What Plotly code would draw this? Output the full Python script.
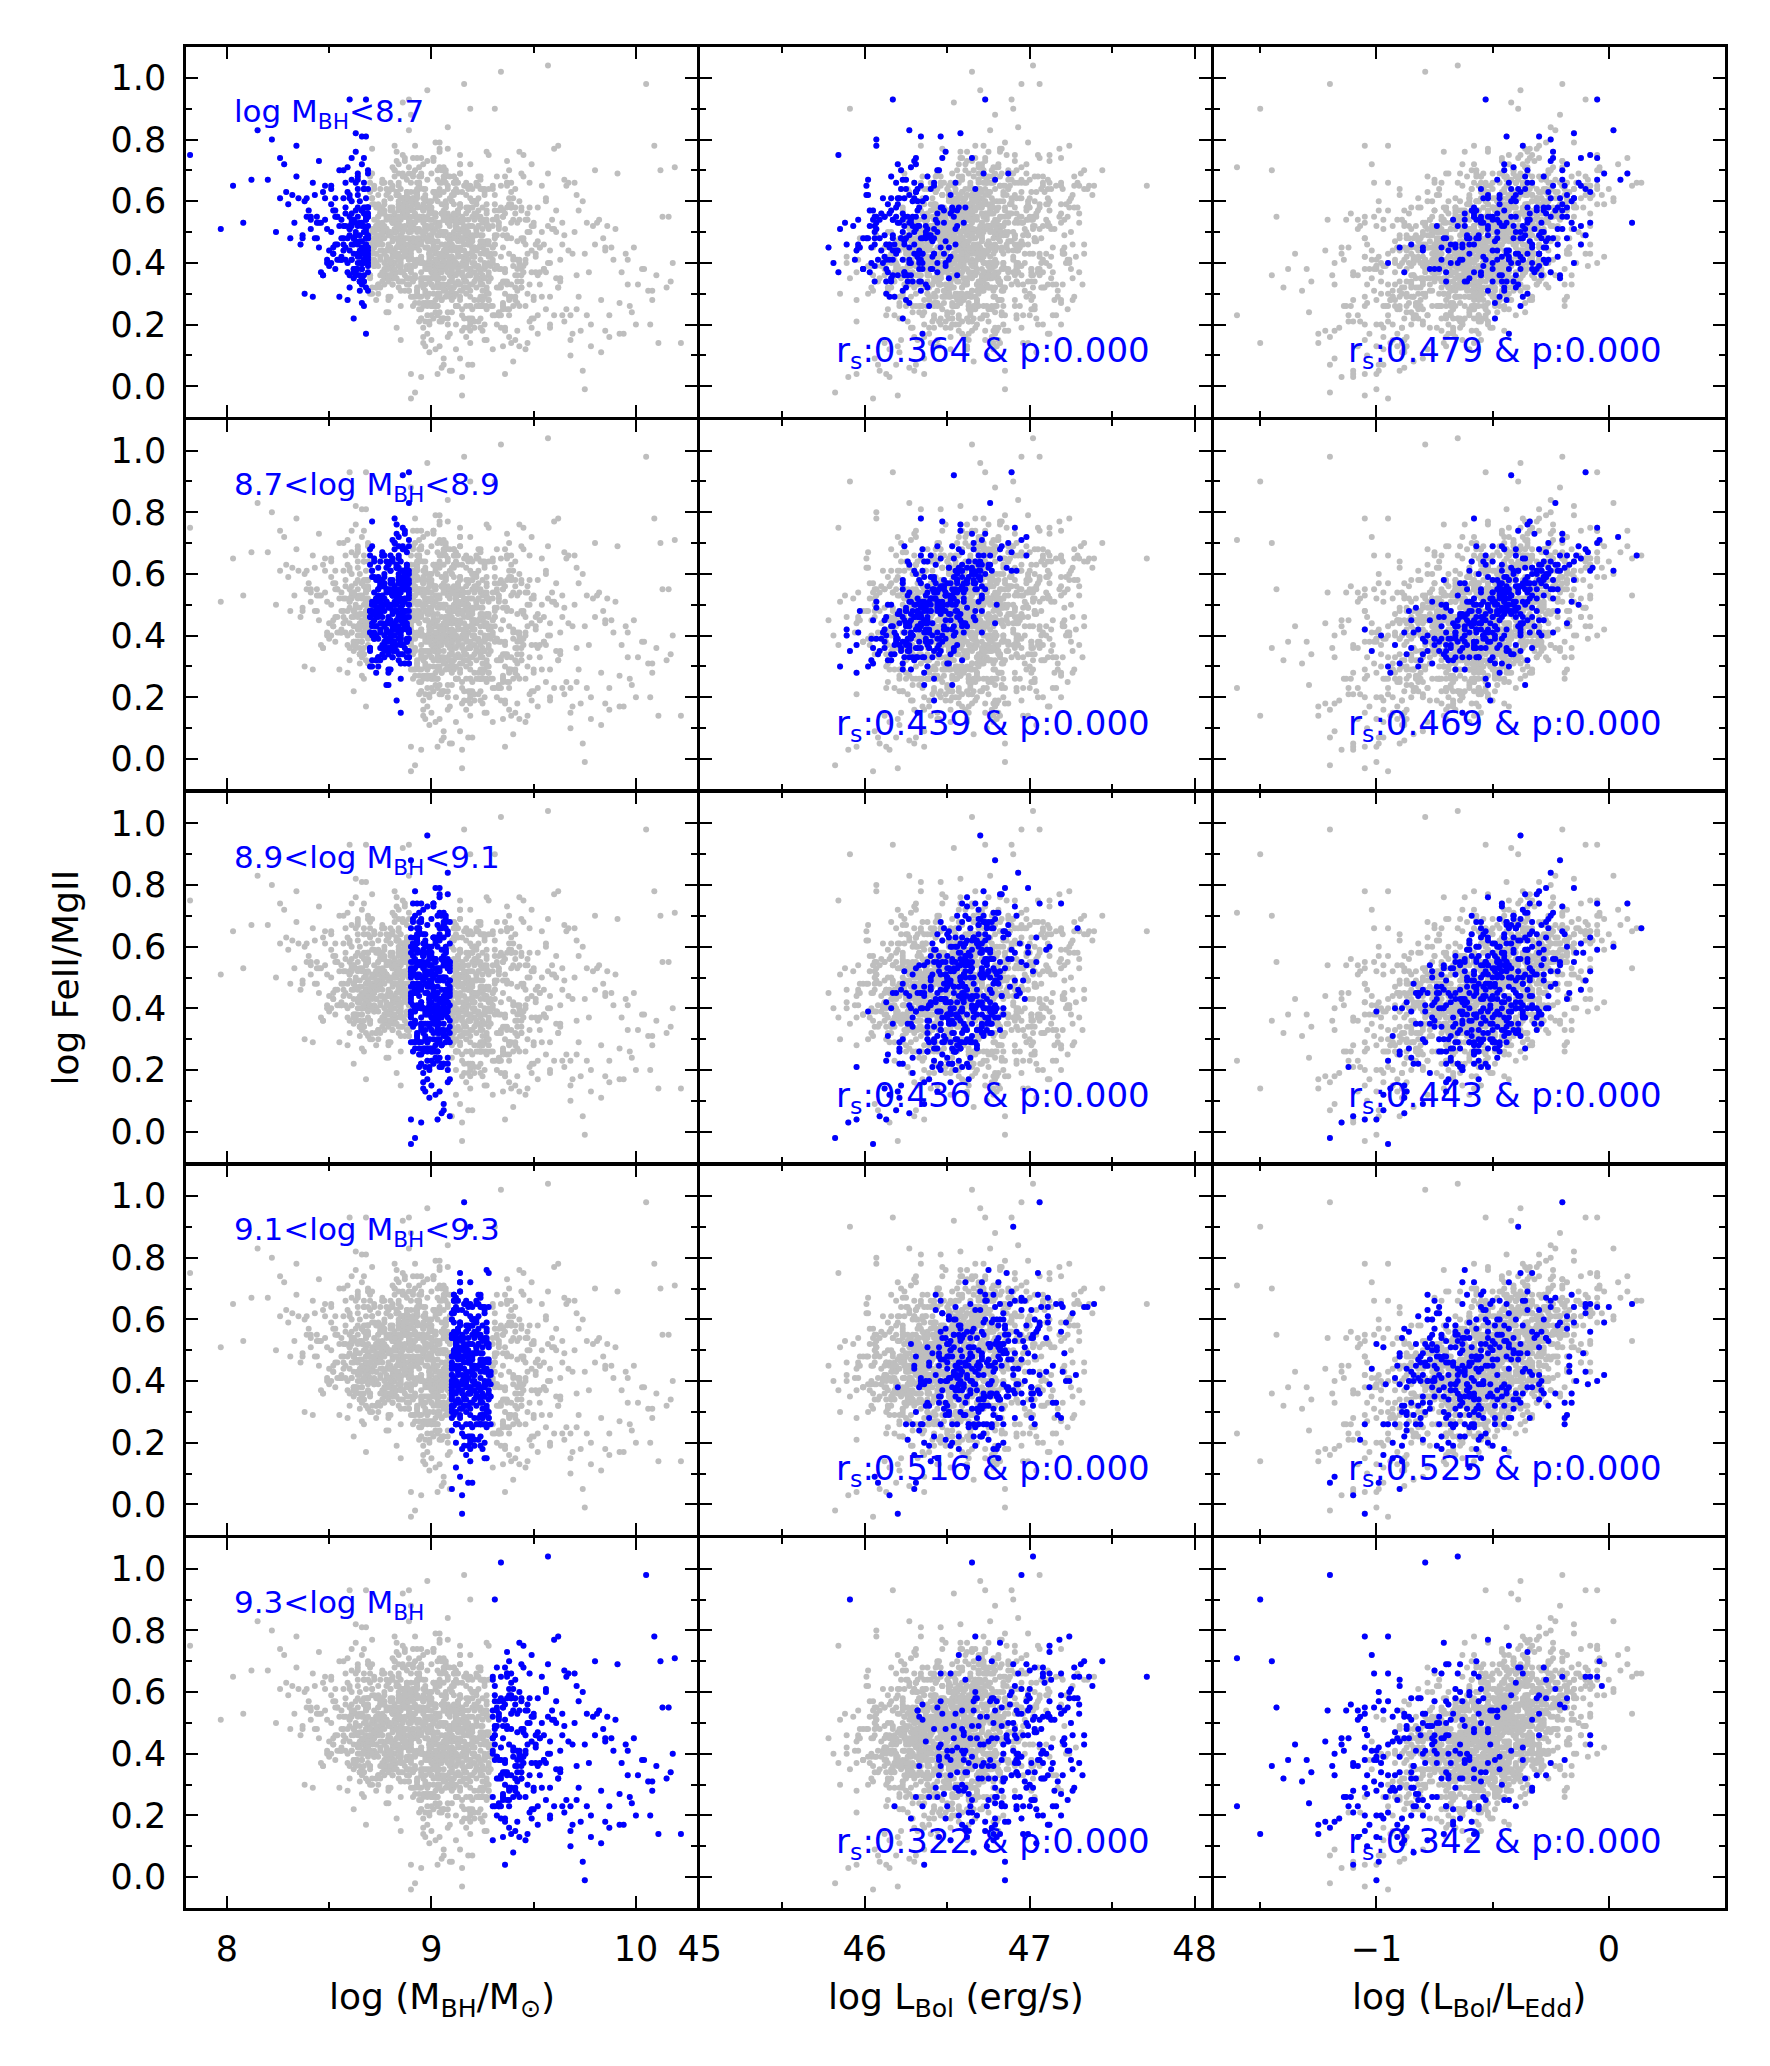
import numpy as np
import plotly.graph_objects as go
from plotly.subplots import make_subplots

# ------------------------------
# Data, in units of 0.01 dex.
# One block per log M_BH bin (= one row of panels):
# log M_BH, log(L_Bol/L_Edd) and log FeII/MgII of each quasar.
# ------------------------------
mbh_1 = [
    866, 852, 868, 841, 863, 869, 857, 864, 835, 861,
    867, 848, 859, 865, 826, 862, 869, 854, 866, 845,
    860, 868, 851, 863, 803, 867, 856, 864, 838, 869,
    862, 843, 865, 858, 868, 832, 861, 866, 853, 867,
    864, 849, 869, 855, 860, 846, 868, 863, 822, 865,
    857, 866, 840, 862, 869, 851, 864, 836, 867, 860,
    868, 854, 815, 865, 861, 847, 869, 858, 863, 844,
    866, 859, 833, 867, 862, 852, 868, 864, 828, 869,
    861, 856, 865, 842, 860, 868, 850, 863, 797, 866,
    867, 839, 864, 857, 869, 845, 862, 866, 853, 860,
    868, 824, 863, 855, 865, 849, 867, 861, 834, 869,
    864, 858, 866, 843, 862, 868, 852, 860, 782, 865,
    867, 847, 869, 856, 863, 830, 861, 866, 854, 868,
    860, 841, 865, 859, 862, 851, 869, 837, 864, 867,
    865, 858, 869, 846, 862, 867, 853, 861, 829, 866,
    868, 863, 855, 869, 844, 860, 866, 851, 867, 838,
    864, 869, 857, 862, 848, 866, 859, 868, 812, 863,
    867, 853, 865, 860, 869, 842, 864, 856, 868, 834,
    861, 866, 849, 869, 858, 863, 867, 845, 862, 868,
    865, 852, 869, 860, 864, 837, 868, 855, 866, 820,
    863, 869, 857, 866, 841, 862, 868, 850, 864, 867,
    868, 859, 865, 847, 869, 861, 854, 867, 826, 863,
    860, 866, 869, 853, 864, 839, 868, 858, 862, 867,
    869, 851, 863, 866, 857, 868, 844, 865, 808, 861,
    864, 867, 856, 869, 862, 848, 866, 859, 868, 831,
]
edd_1 = [
    -52, -30, -41, -20, -70, -35, -48, -22, -15, -58,
    -44, -62, -25, -80, -5, -38, -55, -40, -30, -28,
    -15, -63, -47, -33, -12, -50, -72, -42, -35, -27,
    -55, -18, -46, -90, -36, -40, -24, -60, -33, -10,
    -39, -52, -68, -20, -45, -8, -31, -57, -25, -43,
    -61, -27, -45, -49, -18, -36, -75, -22, -40, -53,
    -46, -58, 2, -34, -65, -29, -52, -13, -38, -47,
    -20, -44, -55, -58, -30, -66, -43, -85, -18, -37,
    -48, -26, -62, -33, -41, -5, -54, -29, -22, -50,
    -35, -42, -47, -12, -60, -25, -70, -39, -51, -32,
    -56, -28, -24, -48, -40, -15, -45, -63, -37, -28,
    -44, -35, -95, -52, -21, -48, -30, -58, -8, -36,
    -62, -40, -26, -54, -43, -20, -37, -16, -68, -50,
    -30, -34, -55, -41, -73, -19, -45, -48, -28, -38,
    -40, -58, -25, -32, -66, -12, -50, -44, -8, -77,
    -35, -47, -62, 8, -29, -54, -70, -38, -21, -16,
    -55, -33, -45, -88, -24, -43, -60, -27, -20, -49,
    -64, -31, -52, -18, -46, -37, -2, -57, -41, -28,
    -48, -72, -26, -39, -53, -15, -44, -35, -67, -30,
    -42, -59, -22, -50, -36, -10, -63, -47, -28, -5,
    -56, -38, -74, -45, -20, -31, -52, -43, 5, -61,
    -34, -65, -41, -26, -57, -48, -37, -80, -15, -29,
    -46, -23, -69, -52, -39, -25, -44, -12, -58, -35,
    -50, -33, -61, -27, -47, -40, -18, -54, 10, -42,
    -37, -55, -43, -30, -71, -21, -49, -38, -60, -24,
]
fe_1 = [
    52, 43, 61, 55, 37, 70, 44, 42, 61, 46,
    44, 54, 37, 44, 74, 48, 37, 55, 81, 45,
    51, 46, 59, 38, 65, 40, 41, 64, 30, 56,
    54, 48, 34, 45, 51, 62, 74, 35, 46, 64,
    40, 51, 40, 70, 32, 53, 58, 57, 80, 42,
    48, 40, 57, 22, 58, 64, 38, 46, 50, 93,
    42, 55, 83, 47, 52, 36, 49, 66, 38, 53,
    57, 28, 53, 58, 43, 45, 17, 46, 72, 48,
    56, 48, 34, 66, 52, 93, 39, 53, 51, 34,
    43, 55, 62, 46, 43, 73, 48, 33, 55, 51,
    48, 50, 76, 41, 60, 40, 52, 41, 78, 41,
    43, 58, 40, 62, 35, 50, 43, 55, 75, 49,
    56, 36, 58, 42, 66, 59, 41, 53, 46, 54,
    49, 54, 36, 71, 38, 65, 31, 48, 58, 26,
    43, 56, 55, 37, 46, 74, 38, 53, 63, 38,
    54, 36, 52, 69, 48, 61, 34, 50, 36, 60,
    55, 45, 70, 37, 65, 38, 48, 45, 67, 47,
    41, 57, 31, 62, 52, 29, 69, 54, 48, 68,
    54, 45, 41, 64, 41, 82, 34, 53, 54, 43,
    40, 57, 58, 44, 68, 49, 45, 29, 57, 67,
    49, 42, 52, 72, 51, 38, 55, 44, 67, 34,
    56, 40, 34, 63, 48, 67, 41, 45, 61, 50,
    36, 57, 44, 61, 43, 61, 81, 52, 37, 66,
    55, 40, 49, 47, 61, 32, 55, 53, 53, 60,
    52, 64, 41, 39, 48, 61, 27, 63, 46, 48,
]

mbh_2 = [
    884, 872, 879, 887, 875, 881, 889, 870, 877, 885,
    880, 888, 873, 883, 876, 886, 871, 882, 878, 889,
    874, 885, 881, 870, 887, 879, 884, 876, 888, 872,
    883, 877, 889, 880, 873, 886, 882, 875, 884, 879,
    871, 887, 878, 885, 881, 874, 888, 883, 870, 886,
    880, 876, 884, 872, 889, 879, 882, 887, 875, 885,
    878, 883, 870, 886, 881, 873, 888, 877, 884, 880,
    889, 874, 882, 879, 887, 871, 885, 876, 883, 888,
    872, 886, 880, 875, 884, 878, 889, 881, 873, 887,
    885, 877, 883, 870, 888, 882, 874, 886, 879, 884,
    876, 889, 881, 873, 885, 880, 887, 871, 883, 878,
    882, 875, 888, 884, 872, 886, 879, 889, 877, 881,
    870, 884, 878, 887, 880, 874, 885, 883, 876, 888,
    886, 879, 873, 882, 889, 877, 881, 871, 884, 880,
    875, 887, 883, 878, 885, 872, 888, 882, 874, 886,
    881, 870, 884, 889, 876, 883, 879, 887, 873, 885,
    888, 877, 882, 874, 886, 880, 871, 884, 878, 889,
    873, 885, 879, 887, 881, 875, 883, 888, 870, 882,
    884, 876, 889, 880, 872, 886, 878, 883, 885, 874,
    879, 887, 871, 882, 888, 877, 884, 873, 886, 881,
    877, 885, 871, 888, 880, 874, 886, 882, 879, 889,
    883, 872, 887, 876, 884, 870, 881, 888, 875, 886,
    879, 889, 873, 885, 882, 877, 887, 871, 884, 880,
    886, 874, 888, 881, 878, 883, 870, 885, 876, 889,
    882, 887, 875, 880, 889, 872, 884, 878, 886, 873,
    888, 879, 884, 871, 886, 881, 876, 889, 874, 883,
    875, 885, 880, 887, 872, 882, 889, 877, 884, 870,
    884, 876, 889, 882, 879, 886, 873, 881, 888, 878,
    881, 888, 874, 885, 870, 883, 877, 887, 880, 872,
    887, 873, 882, 878, 886, 875, 884, 871, 889, 880,
    876, 884, 870, 887, 881, 889, 874, 885, 879, 883,
    889, 880, 885, 872, 883, 877, 888, 875, 882, 886,
    873, 886, 879, 884, 871, 888, 880, 887, 876, 885,
    885, 878, 889, 874, 882, 870, 886, 881, 888, 877,
    880, 887, 872, 883, 876, 889, 884, 878, 871, 886,
    886, 871, 884, 879, 888, 873, 882, 876, 887, 880,
    874, 883, 877, 889, 881, 885, 870, 888, 875, 882,
    888, 875, 886, 880, 872, 884, 879, 887, 883, 876,
]
edd_2 = [
    -45, -72, -30, -58, -15, -50, -88, -40, -62, -25,
    -53, -36, -67, -20, -48, -80, -43, -5, -57, -33,
    -61, -28, -47, -95, -39, -55, -12, -70, -44, -52,
    -35, -64, -49, -22, -76, -41, -58, -30, -105, -46,
    -56, -18, -43, -68, -37, -60, -27, -51, -84, -40,
    -48, -73, -32, -55, -10, -66, -45, -38, -59, -24,
    -70, -42, -53, -29, -63, -47, -35, -78, -50, 2,
    -44, -57, -26, -65, -49, -34, -90, -41, -54, -31,
    -38, -60, -47, -16, -71, -52, -43, -28, -66, -55,
    -50, -33, -75, -45, -21, -58, -40, -62, -36, -48,
    -27, -54, -42, -69, -35, -83, -46, -57, -13, -61,
    -47, -39, -64, -52, -30, -45, -77, -23, -56, -43,
    -59, -34, -50, -8, -66, -44, -53, -37, -72, -48,
    -41, -63, -29, -55, -46, -98, -38, -51, -19, -60,
    -52, -31, -68, -44, -57, -36, -49, -25, -80, -42,
    -65, -46, -35, -58, -14, -50, -71, -40, -54, -33,
    -39, -56, -48, -82, -27, -62, -45, -37, -60, -4,
    -51, -70, -43, -32, -58, -47, -22, -66, -53, -38,
    -45, -61, -28, -54, -75, -40, -50, -35, -63, -49,
    -57, -24, -46, -67, -37, -53, -42, -86, -31, -59,
    -40, -66, -22, -51, -85, -33, -57, -10, -44, -70,
    -55, -28, -48, 12, -62, -38, -79, -46, -31, -58,
    -36, -73, -50, -24, -45, -92, -39, -60, -18, -53,
    -47, -64, -29, -56, -41, -7, -68, -34, -52, -43,
    -59, -37, -81, -46, -26, -54, -42, -65, -30, -49,
    -32, -50, -71, -44, -58, -20, -39, -62, -47, -102,
    -53, -35, -46, -61, -15, -44, -76, -28, -57, -40,
    -66, -24, -49, -38, -55, -5, -43, -70, -33, -51,
    -42, -58, -31, -87, -48, -36, -62, -45, -21, -54,
    -27, -50, -44, -69, -37, -56, 4, -41, -63, -47,
    -60, -34, -52, -45, -78, -29, -40, -57, -48, -17,
    -43, -66, -25, -54, -39, -48, -72, -35, -58, -30,
    -51, -38, -94, -46, -62, -23, -55, -41, -33, -68,
    -36, -57, -44, -28, -73, -50, -13, -64, -39, -47,
    -49, -31, -61, -42, -55, -37, -82, -26, -45, -58,
    -40, -65, -34, -52, -9, -46, -70, -38, -56, -43,
    -54, -22, -47, -60, -35, -75, -42, -29, -63, -50,
    -33, -58, -41, -85, -48, -27, -53, -39, -66, -44,
]
fe_2 = [
    54, 39, 63, 36, 58, 33, 41, 66, 38, 61,
    45, 58, 32, 73, 50, 34, 30, 70, 50, 46,
    55, 45, 48, 30, 74, 44, 65, 50, 35, 50,
    45, 57, 31, 55, 51, 48, 78, 41, 42, 63,
    48, 44, 55, 39, 65, 33, 56, 19, 41, 46,
    58, 46, 43, 54, 93, 29, 48, 44, 64, 41,
    41, 62, 36, 57, 47, 28, 59, 35, 69, 61,
    55, 33, 70, 45, 43, 77, 31, 34, 51, 48,
    41, 48, 57, 51, 58, 24, 54, 64, 43, 55,
    51, 36, 37, 68, 61, 36, 51, 57, 24, 47,
    67, 39, 53, 32, 51, 49, 31, 69, 50, 51,
    37, 56, 46, 59, 45, 47, 45, 83, 33, 58,
    48, 41, 64, 61, 41, 59, 26, 51, 50, 42,
    61, 39, 40, 50, 69, 40, 42, 32, 62, 61,
    42, 61, 48, 36, 46, 65, 39, 55, 39, 92,
    53, 46, 32, 52, 66, 52, 34, 68, 40, 49,
    43, 60, 50, 30, 59, 29, 59, 46, 51, 71,
    48, 49, 35, 73, 38, 56, 48, 33, 63, 40,
    53, 37, 53, 64, 39, 37, 54, 76, 15, 51,
    36, 55, 61, 44, 44, 66, 34, 48, 61, 43,
    56, 40, 61, 38, 45, 62, 42, 68, 49, 33,
    42, 59, 48, 66, 46, 35, 38, 57, 52, 44,
    50, 35, 58, 52, 40, 37, 61, 44, 66, 39,
    45, 47, 63, 33, 51, 62, 36, 55, 49, 58,
    51, 44, 32, 54, 60, 40, 47, 38, 68, 43,
    57, 41, 46, 50, 37, 71, 49, 42, 53, 35,
    47, 54, 39, 45, 64, 56, 31, 59, 41, 48,
    39, 58, 50, 43, 46, 75, 52, 37, 60, 44,
    53, 38, 55, 34, 48, 62, 43, 51, 66, 40,
    59, 46, 42, 39, 56, 48, 72, 50, 33, 54,
    44, 57, 41, 52, 40, 61, 49, 38, 55, 63,
    48, 41, 64, 45, 54, 36, 43, 57, 50, 58,
    52, 47, 28, 55, 40, 63, 44, 60, 53, 37,
    55, 42, 50, 58, 38, 46, 69, 35, 61, 48,
    40, 60, 47, 53, 36, 57, 42, 62, 51, 45,
    58, 43, 52, 38, 67, 49, 35, 56, 44, 50,
    46, 63, 52, 41, 57, 39, 48, 61, 36, 54,
    62, 44, 50, 36, 47, 60, 41, 55, 43, 52,
]

mbh_3 = [
    896, 903, 891, 908, 899, 894, 905, 900, 892, 907,
    901, 895, 909, 898, 904, 890, 906, 897, 902, 893,
    905, 899, 892, 907, 896, 903, 890, 908, 900, 894,
    898, 906, 901, 893, 909, 897, 904, 891, 902, 895,
    907, 892, 900, 905, 896, 909, 894, 903, 898, 890,
    893, 904, 897, 901, 908, 891, 906, 899, 895, 902,
    900, 896, 908, 894, 903, 898, 890, 905, 901, 907,
    904, 891, 899, 906, 893, 902, 909, 896, 892, 898,
    895, 907, 902, 890, 905, 900, 897, 908, 894, 903,
    909, 898, 893, 904, 901, 895, 906, 891, 899, 896,
    892, 905, 900, 897, 908, 903, 894, 901, 907, 890,
    906, 899, 891, 902, 896, 909, 898, 893, 904, 900,
    897, 903, 908, 895, 890, 906, 901, 899, 892, 905,
    901, 894, 904, 907, 898, 891, 903, 896, 909, 893,
    890, 908, 896, 902, 905, 899, 893, 907, 900, 897,
    903, 900, 895, 891, 907, 904, 898, 906, 894, 901,
    898, 892, 906, 900, 895, 908, 902, 890, 905, 896,
    907, 897, 901, 893, 904, 899, 909, 895, 891, 903,
    894, 905, 899, 908, 892, 901, 896, 903, 906, 900,
    902, 890, 907, 897, 903, 894, 905, 900, 898, 909,
    896, 904, 893, 906, 900, 908, 891, 902, 895, 899,
    905, 899, 902, 891, 897, 903, 907, 894, 901, 890,
    900, 893, 908, 904, 898, 895, 901, 906, 892, 903,
    897, 906, 894, 899, 909, 902, 896, 890, 904, 901,
    899, 906, 892, 903, 897, 909, 894, 901, 905, 890,
    904, 891, 898, 907, 895, 902, 890, 908, 896, 900,
    893, 905, 900, 897, 909, 894, 903, 899, 906, 891,
    908, 896, 902, 890, 904, 898, 907, 893, 901, 895,
    901, 909, 895, 906, 892, 903, 897, 905, 890, 899,
    897, 903, 890, 908, 900, 894, 906, 891, 904, 898,
    906, 892, 904, 896, 901, 909, 893, 900, 907, 895,
    894, 900, 907, 891, 905, 897, 902, 908, 896, 903,
    902, 895, 908, 899, 893, 906, 890, 904, 901, 897,
    909, 898, 893, 904, 900, 891, 907, 895, 903, 906,
    890, 904, 899, 906, 895, 902, 898, 909, 892, 901,
    905, 893, 901, 897, 908, 890, 904, 896, 900, 907,
    896, 907, 891, 903, 899, 905, 894, 908, 902, 893,
    903, 899, 906, 892, 904, 897, 909, 901, 895, 890,
    900, 908, 895, 905, 891, 903, 898, 906, 893, 902,
    907, 894, 902, 899, 906, 890, 905, 897, 909, 896,
    892, 901, 908, 895, 903, 900, 893, 904, 899, 906,
    898, 906, 890, 904, 897, 909, 901, 894, 907, 903,
    904, 896, 907, 893, 900, 905, 891, 902, 898, 908,
    895, 903, 899, 908, 892, 906, 897, 890, 905, 901,
    906, 900, 893, 902, 909, 895, 904, 899, 891, 907,
    899, 891, 905, 897, 903, 908, 894, 901, 906, 892,
]
edd_3 = [
    -48, -75, -30, -56, -62, -20, -41, -88, -53, -35,
    -60, -44, -15, -70, -52, -38, -97, -47, -27, -65,
    -55, -33, -80, -46, -10, -58, -42, -68, -50, -24,
    -72, -39, -57, -29, -110, -49, -63, -36, -45, -84,
    -43, -66, -52, -18, -77, -40, -58, -31, -92, -54,
    -37, -61, -47, -73, -26, -55, -44, -82, -51, -8,
    -64, -35, -50, -90, -42, -69, -28, -57, -46, -74,
    -53, -22, -67, -41, -59, -34, -79, -48, -120, -38,
    -45, -71, -56, -30, -63, -49, -86, -40, -54, -25,
    -58, -43, -76, -36, -52, -14, -65, -47, -70, -32,
    -50, -62, -39, -81, -45, -57, -27, -68, -41, -95,
    -34, -55, -72, -48, -19, -60, -44, -78, -52, -37,
    -66, -42, -58, -29, -87, -51, -35, -63, -47, -5,
    -54, -74, -40, -61, -33, -49, -100, -45, -57, -31,
    -43, -68, -52, -23, -59, -38, -80, -46, -64, -50,
    -71, -36, -55, -47, -28, -62, -42, -85, -53, -39,
    -48, -60, -33, -77, -51, -44, -66, -21, -58, -94,
    -40, -56, -73, -45, -30, -63, -50, -37, -82, -54,
    -62, -35, -49, -68, -41, -57, -12, -75, -46, -53,
    -57, -44, -89, -39, -64, -26, -52, -70, -48, -34,
    -45, -67, -38, -55, -79, -43, -60, -32, -115, -50,
    -36, -59, -47, -72, -25, -56, -41, -64, -53, -83,
    -51, -42, -69, -34, -58, -46, -17, -76, -49, -61,
    -63, -39, -54, -88, -44, -31, -57, -48, -66, 8,
    -46, -70, -33, -58, -84, -21, -52, -40, -63, -48,
    -55, -38, -95, -44, -12, -60, -29, -67, -50, 2,
    -61, -47, -26, -73, -54, -36, -81, -43, -57, -31,
    -42, -66, -53, -105, -37, -49, -18, -59, -45, -76,
    -50, -28, -62, -40, -71, -55, -34, -88, -46, -64,
    -57, -44, -79, -25, -52, -68, -39, -48, -15, -60,
    -35, -63, -50, -43, -90, -56, -30, -72, -47, -38,
    -65, -41, -54, -23, -47, -112, -59, -36, -70, -49,
    -44, -58, -31, -67, -52, -40, -83, -55, -27, -62,
    -48, -74, -37, -55, -8, -61, -45, -33, -69, -51,
    -53, -42, -64, -29, -77, -48, -39, -58, -100, -35,
    -46, -60, -20, -51, -66, -43, -85, -37, -56, -41,
    -71, -34, -52, -45, -59, 14, -47, -63, -38, -54,
    -40, -56, -68, -30, -49, -93, -44, -61, -26, -50,
    -58, -37, -47, -75, -53, -42, -64, -21, -55, -33,
    -49, -66, -39, -54, -80, -45, -28, -60, -43, -72,
    -36, -51, -62, -44, -57, -11, -48, -70, -35, -53,
    -64, -42, -55, -31, -87, -47, -58, -40, -25, -66,
    -45, -73, -50, -38, -61, -53, -34, -97, -46, -56,
    -59, -41, -48, -65, -27, -52, -43, -76, -37, -5,
    -52, -68, -35, -57, -44, -82, -49, -30, -62, -40,
    -47, -56, -39, -71, -54, -33, -63, -45, -58, -24,
]
fe_3 = [
    50, 34, 61, 33, 43, 65, 33, 15, 46, 55,
    36, 55, 55, 26, 62, 44, 7, 51, 79, 32,
    43, 40, 46, 58, 49, 26, 50, 42, 33, 71,
    47, 35, 45, 54, 5, 61, 35, 59, 44, 22,
    43, 45, 54, 43, 19, 49, 51, 33, 40, 43,
    50, 32, 60, 40, 44, 68, 32, 44, 40, 63,
    33, 59, 44, 25, 53, 17, 51, 56, 40, 43,
    52, 52, 34, 63, 31, 53, 41, 27, -2, 96,
    42, 46, 28, 58, 42, 57, 27, 40, 64, 47,
    47, 35, 41, 71, 39, 58, 22, 53, 41, 35,
    35, 56, 52, 35, 56, 37, 68, 27, 46, -4,
    50, 35, 51, 43, 64, 45, 29, 45, 76, 37,
    51, 41, 44, 35, 42, 43, 56, 20, 60, 59,
    37, 47, 66, 38, 52, 29, 4, 57, 46, 40,
    47, 53, 32, 56, 70, 42, 30, 50, 39, 58,
    30, 51, 50, 26, 59, 42, 39, 39, 65, 44,
    51, 29, 44, 54, 47, 55, 35, 88, 28, 14,
    45, 48, 30, 58, 38, 43, 61, 41, 45, 40,
    55, 40, 47, 24, 70, 47, 61, 36, 33, 44,
    38, 53, 40, 33, 43, 66, 21, 49, 45, 53,
    54, 37, 31, 54, 39, 37, 61, 51, 3, 43,
    37, 49, 55, 34, 52, 23, 59, 46, 36, 45,
    48, 61, 30, 49, 38, 74, 45, 50, 27, 49,
    39, 56, 47, 11, 52, 37, 55, 39, 43, 74,
    58, 22, 60, 26, 48, 54, 48, 32, 38, 60,
    29, 69, 23, 68, 46, 40, 38, 53, 53, 60,
    59, 46, 40, 45, 44, 27, 45, 39, 68, 51,
    39, 57, 55, 4, 38, 48, 60, 64, 37, 37,
    50, 49, 42, 40, 53, 39, 64, 6, 52, 54,
    38, 67, 29, 84, 27, 44, 32, 55, 79, 29,
    71, 36, 30, 54, 26, 17, 74, 26, 69, 40,
    29, 69, 54, 48, 28, 21, 36, 77, 16, 52,
    61, 25, 64, 27, 63, 42, 35, 21, 63, 52,
    34, 45, 48, 63, 52, 47, 31, 68, 45, 41,
    55, 50, 21, 67, 35, 24, 67, 29, 39, 46,
    42, 59, 73, 30, 16, 66, 24, 72, 26, 58,
    40, 44, 51, 33, 57, 66, 54, 20, 56, 51,
    40, 60, 31, 78, 29, 31, 36, 50, 69, 37,
    52, 48, 29, 42, 48, 35, 55, 55, 66, 41,
    38, 55, 62, 30, 9, 63, 56, 62, 32, 40,
    63, 35, 42, 34, 60, 58, 55, 13, 59, 55,
    27, 67, 39, 77, 13, 55, 22, 66, 70, 29,
    64, 26, 29, 62, 42, 22, 74, 12, 73, 30,
    33, 70, 56, 22, 40, 57, 50, 52, 39, 74,
    54, 23, 62, 26, 68, 22, 53, 39, 41, 66,
    38, 57, 50, 54, 32, 65, 21, 63, 49, 56,
]

mbh_4 = [
    914, 922, 910, 927, 917, 912, 925, 919, 911, 921,
    916, 928, 913, 920, 924, 910, 918, 926, 915, 912,
    923, 911, 919, 914, 929, 917, 921, 910, 925, 913,
    918, 926, 912, 922, 915, 920, 910, 927, 916, 924,
    911, 919, 924, 913, 921, 928, 914, 917, 910, 922,
    925, 915, 920, 911, 918, 912, 923, 929, 916, 919,
    913, 921, 910, 926, 914, 924, 917, 911, 920, 927,
    919, 912, 928, 915, 922, 910, 925, 918, 913, 923,
    910, 924, 916, 920, 912, 927, 914, 921, 919, 911,
    922, 917, 913, 925, 910, 918, 926, 912, 915, 929,
    916, 911, 923, 919, 927, 914, 920, 910, 924, 917,
    912, 926, 918, 910, 921, 915, 928, 913, 922, 919,
    920, 913, 925, 917, 911, 923, 916, 929, 914, 910,
    927, 918, 912, 922, 915, 910, 924, 919, 926, 913,
    911, 921, 916, 928, 913, 920, 917, 912, 923, 915,
    924, 914, 910, 919, 926, 912, 921, 918, 911, 925,
    917, 923, 913, 910, 920, 927, 915, 922, 914, 918,
    910, 916, 926, 912, 924, 919, 911, 928, 917, 921,
    922, 912, 918, 925, 914, 910, 923, 916, 920, 913,
    915, 927, 911, 920, 917, 924, 912, 919, 910, 926,
    913, 925, 917, 910, 922, 919, 928, 914, 921, 911,
    920, 912, 927, 916, 923, 910, 918, 926, 915, 924,
    918, 924, 911, 921, 914, 929, 916, 912, 925, 919,
    926, 915, 922, 910, 920, 913, 927, 917, 911, 923,
    912, 921, 916, 928, 914, 924, 910, 919, 925, 917,
    923, 910, 919, 915, 926, 912, 921, 928, 913, 918,
    917, 927, 913, 922, 911, 920, 925, 916, 910, 924,
    910, 919, 924, 914, 928, 917, 912, 923, 920, 915,
    925, 913, 918, 926, 916, 922, 910, 919, 914, 927,
    914, 922, 910, 920, 924, 911, 927, 916, 921, 913,
    921, 916, 926, 912, 918, 923, 915, 910, 928, 919,
    911, 924, 919, 927, 913, 915, 920, 925, 917, 912,
    927, 918, 912, 923, 910, 921, 914, 926, 916, 920,
    916, 910, 925, 919, 922, 913, 928, 911, 924, 918,
    922, 927, 914, 917, 911, 925, 919, 912, 920, 923,
    919, 912, 921, 928, 916, 910, 924, 915, 926, 913,
    924, 915, 920, 913, 927, 918, 911, 922, 910, 925,
    912, 926, 917, 923, 914, 920, 928, 916, 921, 911,
]
edd_4 = [
    -55, -82, -40, -66, -30, -71, -58, -95, -47, -62,
    -36, -74, -52, -88, -61, -44, -120, -57, -68, -25,
    -63, -49, -79, -55, -33, -70, -46, -90, -60, -18,
    -51, -67, -38, -102, -58, -45, -75, -62, -29, -56,
    -84, -53, -64, -41, -72, -59, -35, -97, -48, -66,
    -57, -43, -76, -61, -22, -69, -50, -85, -64, -39,
    -70, -56, -45, -78, -60, -32, -92, -54, -67, -48,
    -42, -65, -58, -110, -51, -73, -37, -62, -80, -55,
    -61, -47, -89, -53, -27, -68, -59, -44, -76, -63,
    -50, -71, -57, -40, -86, -64, -52, -15, -69, -58,
    -74, -60, -46, -93, -55, -38, -66, -52, -81, -43,
    -58, -35, -70, -62, -49, -105, -56, -73, -44, -65,
    -67, -52, -84, -41, -60, -31, -77, -55, -63, -48,
    -45, -72, -59, -96, -53, -66, -39, -61, -87, -50,
    -63, -54, -20, -70, -47, -82, -58, -65, -42, -75,
    -56, -90, -48, -62, -34, -71, -53, -67, -59, -44,
    -78, -46, -61, -55, -99, -50, -68, -37, -64, -57,
    -52, -69, -43, -83, -60, -28, -74, -56, -65, -47,
    -60, -38, -76, -54, -118, -62, -49, -71, -57, -66,
    -44, -64, -57, -79, -51, -35, -68, -89, -60, -10,
    -30, -90, -8, -87, -86, -80, -5, -43, -75, -78,
    -74, -16, -87, -10, -87, -17, -100, -60, -30, -67,
    -43, -105, -9, -76, -2, -83, -75, -19, -97, 10,
    -73, -31, -72, -89, -16, -77, -79, -8, -78, -66,
    -43, -56, -81, -48, -52, -29, -55, -80, 0, -63,
    -75, -54, -72, -74, -55, -70, -17, -84, -53, -37,
    -17, -88, -68, -66, -29, -49, -57, -41, -81, -23,
    -81, -18, -64, -54, -87, -5, -41, -83, -65, -45,
    -19, -65, -57, -89, -56, -60, -87, -58, -41, -33,
    -79, -52, -73, -2, -82, -16, -93, -80, -28, -103,
    -50, -69, -25, -97, -26, -51, -50, -55, -33, -61,
    -80, -33, -72, -60, -64, -23, -71, -62, -36, -60,
    -37, -73, -59, -78, -39, -73, -66, -50, -74, -10,
    -76, -30, -72, -45, -78, -85, -14, -91, -62, -27,
    -21, -60, -43, -88, -90, -18, -43, -76, -48, -107,
    -69, -26, -66, -19, -92, -69, -38, -45, -61, -49,
    -55, -77, -10, -78, -27, -89, -75, -11, -81, -34,
    -77, -35, -58, -82, -63, -39, -63, -55, -30, -15,
]
fe_4 = [
    50, 32, 60, 31, 51, 48, 26, 26, 66, 42,
    44, 51, 49, 22, 68, 36, 7, 44, 39, 66,
    45, 32, 46, 44, 42, 58, 55, 5, 45, 57,
    36, 46, 49, 44, 25, 58, 35, 76, 40, 43,
    40, 52, 34, 34, 54, 46, 69, 16, 42, 51,
    31, 51, 55, 39, 58, 20, 45, 43, 35, 90,
    48, 39, 32, 40, 54, 54, 26, 63, 25, 47,
    47, 55, 36, 3, 51, 37, 58, 22, 42, 68,
    37, 55, 32, 45, 67, 26, 48, 37, 38, 54,
    50, 38, 57, 36, 40, 49, 20, 64, 42, 35,
    50, 45, 38, 20, 52, 75, 37, 45, 26, 62,
    40, 38, 46, 54, 28, -3, 47, 48, 65, 36,
    45, 56, 29, 49, 29, 55, 54, 39, 72, 34,
    39, 41, 51, 39, 23, 55, 47, 31, 29, 66,
    50, 40, 98, 28, 51, 47, 34, 44, 28, 40,
    29, 39, 55, 43, 43, 30, 60, 46, 41, 53,
    40, 35, 56, 48, 7, 53, 37, 66, 29, 48,
    54, 34, 44, 45, 46, 36, 62, 34, 42, 60,
    35, 52, 50, 28, 9, 44, 52, 35, 60, 39,
    48, 32, 48, 52, 39, 49, 51, 14, 38, 62,
    39, 49, 56, 24, 56, 33, 64, 28, 45, 63,
    44, 36, 44, 65, 26, 48, 52, 35, 63, 19,
    57, 26, 39, 60, 59, 26, 41, 26, 51, 65,
    26, 55, 55, 30, 33, 47, 30, 65, 68, 39,
    52, 21, 48, 37, 59, 37, 44, 21, 64, 65,
    57, 39, 22, 48, 15, 53, 45, 42, 63, 36,
    43, 57, 37, 26, 56, 58, 18, 50, 28, 67,
    40, 61, 22, 69, 30, 40, 54, 52, 40, 18,
    33, 53, 47, 54, 32, 36, 38, 72, 31, 56,
    45, 35, 62, 42, 41, 68, 15, 35, 60, 38,
    19, 46, 64, 26, 32, 65, 47, 31, 75, 37,
    49, 38, 18, 59, 43, 36, 48, 35, 66, 12,
    43, 64, 26, 45, 34, 42, 58, 35, 19, 64,
    52, 42, 47, 26, 60, 33, 40, 45, 26, 54,
    59, 25, 72, 32, 48, 29, 38, 40, 60, 21,
    29, 53, 56, 28, 41, 60, 33, 53, 39, 26,
    64, 31, 43, 51, 54, 19, 66, 49, 46, 28,
    33, 63, 30, 61, 33, 49, 52, 22, 34, 59,
]

mbh_5 = [
    932, 948, 936, 971, 941, 933, 958, 1003, 938, 965,
    944, 931, 987, 952, 935, 976, 939, 946, 1015, 934,
    955, 937, 943, 930, 968, 994, 942, 950, 933, 981,
    936, 961, 1008, 939, 947, 931, 973, 957, 940, 935,
    990, 944, 932, 952, 937, 1019, 963, 945, 978, 938,
    934, 949, 966, 931, 985, 941, 956, 936, 999, 943,
    947, 932, 938, 970, 953, 1011, 935, 962, 942, 930,
    983, 940, 958, 933, 946, 937, 992, 951, 975, 939,
    935, 964, 944, 1005, 931, 948, 939, 969, 954, 936,
    942, 930, 979, 938, 960, 945, 1022, 933, 951, 988,
    937, 955, 941, 934, 996, 949, 964, 931, 972, 943,
    1001, 939, 932, 959, 946, 936, 980, 942, 1013, 953,
    934, 967, 944, 930, 957, 986, 940, 948, 935, 974,
    950, 938, 993, 943, 931, 962, 937, 1007, 945, 958,
    941, 933, 977, 952, 1017, 936, 947, 968, 939, 984,
    930, 956, 944, 997, 935, 961, 942, 1009, 949, 971,
    933, 951, 937, 968, 942, 930, 959, 1006, 940, 947,
    935, 945, 982, 931, 954, 974, 938, 949, 1010, 936,
    960, 932, 944, 939, 991, 952, 934, 943, 963, 930,
    937, 948, 966, 931, 1000, 941, 956, 935, 972, 946,
    939, 985, 933, 950, 938, 942, 961, 1016, 934, 953,
    944, 930, 978, 936, 947, 958, 932, 989, 940, 965,
    931, 957, 942, 996, 935, 949, 970, 937, 943, 1004,
    951, 938, 964, 933, 945, 980, 936, 955, 941, 930,
    946, 934, 969, 940, 1012, 952, 932, 939, 987, 944,
    930, 962, 943, 937, 954, 975, 935, 948, 998, 941,
    958, 936, 945, 983, 931, 950, 967, 939, 934, 1018,
    942, 933, 971, 947, 938, 992, 944, 956, 930, 960,
    935, 949, 940, 976, 932, 943, 1008, 937, 953, 965,
    963, 931, 946, 938, 985, 941, 934, 957, 950, 995,
]
edd_5 = [
    -50, -95, -38, -110, -72, -88, -61, -130, -45, -75,
    -83, -42, -120, -58, -99, -70, -30, -66, -140, -79,
    -105, -55, -64, -88, -160, -125, -92, -48, -60, -80,
    -74, -95, -92, -40, -58, -81, -118, -65, -100, -53,
    -85, -62, -77, -103, -35, -160, -70, -90, -108, -60,
    -69, -48, -5, -56, -115, -84, -66, -110, -88, -74,
    -91, -58, -76, -72, -62, -125, -45, -105, -67, -80,
    -110, -51, -89, -73, -64, -95, -83, -70, -100, -37,
    -62, -78, -108, -120, -49, -80, -71, -95, -56, -85,
    -55, -72, -86, -93, -68, -43, -150, -60, -98, -112,
    -78, -60, -88, -66, -95, -102, -75, -150, -84, -69,
    -118, -81, -47, -63, -76, -59, -104, -90, -105, -71,
    -70, -90, -56, -96, -74, -88, -42, -65, -82, -99,
    -67, -87, -110, -60, -75, -64, -101, -98, -52, -93,
    -94, -63, -79, -85, -128, -46, -70, -104, -58, -87,
    -76, -91, -64, -113, -54, -73, -100, -95, -68, -80,
    -37, -115, -18, -105, -105, -40, -48, -132, -111, -69,
    -91, -25, -113, -3, -85, -60, -105, -67, -145, -33,
    -78, -97, -54, -93, -70, -84, -8, -91, -47, -107,
    -105, -69, -53, -82, -105, -21, -99, -114, -70, -78,
    -30, -122, -108, -56, -4, -102, -58, -143, -92, -31,
    -85, -10, -80, -111, -51, -100, -39, -75, -84, -76,
    -8, -93, -104, -83, -101, -64, -55, -82, -71, -138,
    -105, -33, -79, -108, -52, -57, -97, -69, -90, -27,
    -30, -99, -67, -55, -145, -112, -19, -82, -83, -98,
    -108, -63, -100, -27, -74, -64, -100, -31, -129, -90,
    -66, -101, -28, -89, -87, -100, -58, -104, -19, -118,
    -119, -36, -90, -98, -23, -91, -105, -52, -79, -52,
    -43, -122, -37, -56, -85, -121, -101, -20, -86, -110,
    -114, -8, -97, -84, -75, -27, -116, -69, -33, -135,
]
fe_5 = [
    54, 21, 68, 36, 32, 53, 40, 38, 25, 67,
    32, 59, 16, 47, 57, 23, 59, 41, 32, 102,
    38, 34, 60, 12, 23, 17, 47, 52, 24, 53,
    37, 57, 28, 63, 14, 46, 18, 104, 39, 34,
    51, 38, 49, 17, 73, 71, 34, 39, 13, 59,
    32, 52, 65, 23, 45, 36, 61, 4, 45, 26,
    54, 32, 43, 66, 37, 14, 55, 78, 18, 40,
    28, 54, 19, 52, 40, 66, 27, 46, -1, 66,
    49, 23, 36, 98, 38, 50, 14, 43, 65, 34,
    31, 45, 52, 29, 51, 75, 14, 23, 37, 45,
    49, 38, 15, 58, 33, 72, 46, 90, 29, 40,
    33, 58, 39, 51, 26, 18, 46, 34, 55, 45,
    23, 44, 57, 26, 40, 52, 41, 66, 27, 5,
    53, 16, 37, 39, 57, 32, 66, 20, 48, 44,
    28, 57, 37, 58, 34, 30, 50, 10, 48, 48,
    45, 25, 69, 26, 26, 50, 38, 78, 37, 25,
    38, 43, 58, 15, 53, 23, 54, 31, 26, 56,
    45, 37, 54, 62, 29, 60, 29, 22, 36, 51,
    23, 39, 58, 29, 69, 36, 65, 13, 35, 52,
    48, 33, 25, 48, 20, 56, 60, 26, 57, 12,
    53, 18, 51, 22, 70, 41, 35, 55, 33, 33,
    32, 65, 20, 56, 43, 20, 68, 41, 8, 49,
    43, 52, 27, 41, 55, 19, 50, 25, 76, 38,
    42, 28, 53, 23, 47, 70, 19, 46, 29, 64,
    46, 42, 17, 61, 70, 23, 55, 58, 23, 34,
    54, 32, 41, 33, 50, 43, 13, 58, 24, 64,
    29, 38, 68, 11, 49, 28, 66, 33, 38, 40,
    36, 32, 62, 30, 61, 17, 48, 37, 41, 77,
    25, 44, 42, 53, 20, 54, 31, 65, 45, 21,
    41, 46, 54, 23, 44, 58, 19, 69, 29, 43,
]

bin_labels = [
    "log M<sub>BH</sub>&lt;8.7",
    "8.7&lt;log M<sub>BH</sub>&lt;8.9",
    "8.9&lt;log M<sub>BH</sub>&lt;9.1",
    "9.1&lt;log M<sub>BH</sub>&lt;9.3",
    "9.3&lt;log M<sub>BH</sub>",
]
rs_lbol = ["0.364", "0.439", "0.436", "0.516", "0.322"]
rs_edd = ["0.479", "0.469", "0.443", "0.525", "0.342"]
p_val = ["0.000", "0.000", "0.000", "0.000", "0.000"]

x_titles = [
    "log (M<sub>BH</sub>/M<sub>⊙</sub>)",
    "log L<sub>Bol</sub> (erg/s)",
    "log (L<sub>Bol</sub>/L<sub>Edd</sub>)",
]
x_ranges = [[7.8, 10.3], [45, 48.1], [-1.7, 0.5]]

GRAY = "#bebebe"
BLUE = "#0000ff"
FONT = "DejaVu Sans"
LW = 2.6  # frame line width (px)

# ------------------------------
# Convert to dex; L_Bol = (L_Bol/L_Edd) * 1.26e38 * M_BH
# ------------------------------
blocks = [(mbh_1, edd_1, fe_1), (mbh_2, edd_2, fe_2), (mbh_3, edd_3, fe_3),
          (mbh_4, edd_4, fe_4), (mbh_5, edd_5, fe_5)]
mbh = [np.array(b[0]) / 100 for b in blocks]
edd = [np.array(b[1]) / 100 for b in blocks]
fe = [np.array(b[2]) / 100 for b in blocks]
lbol = [m + e + 38.1 for m, e in zip(mbh, edd)]

xcols = [mbh, lbol, edd]
fe_all = np.concatenate(fe)


def ax(n):
    # plotly names the first axis 'x', not 'x1'
    return "" if n == 1 else str(n)


# axis lines are drawn just outside each panel, so leave one line width
# between panels to make neighbouring frames fall on top of each other
fig = make_subplots(rows=5, cols=3,
                    horizontal_spacing=LW / 1539, vertical_spacing=LW / 1861)

for r in range(5):
    for c in range(3):
        fig.add_trace(go.Scatter(
            x=np.concatenate(xcols[c]), y=fe_all, mode="markers",
            marker=dict(color=GRAY, size=6, line=dict(width=0)),
            hoverinfo="skip"), row=r + 1, col=c + 1)
        fig.add_trace(go.Scatter(
            x=xcols[c][r], y=fe[r], mode="markers",
            marker=dict(color=BLUE, size=6, line=dict(width=0)),
            hoverinfo="skip"), row=r + 1, col=c + 1)

frame = dict(showline=True, linewidth=LW, linecolor="black", mirror="ticks",
             ticks="inside", ticklen=12, tickwidth=2.2, tickcolor="black",
             showgrid=False, zeroline=False,
             tickfont=dict(family=FONT, size=35, color="black"))

for r in range(5):
    for c in range(3):
        fig.update_xaxes(range=x_ranges[c], tick0=0, dtick=1,
                         minor=dict(ticks="inside", ticklen=6, tickwidth=2,
                                    tickcolor="black", tick0=0, dtick=0.5),
                         showticklabels=(r == 4), ticklabelstandoff=8,
                         row=r + 1, col=c + 1, **frame)
        fig.update_yaxes(range=[-0.1, 1.1], tick0=0, dtick=0.2, tickformat=".1f",
                         minor=dict(ticks="inside", ticklen=6, tickwidth=2,
                                    tickcolor="black", tick0=0, dtick=0.1),
                         showticklabels=(c == 0), ticklabelstandoff=10,
                         row=r + 1, col=c + 1, **frame)

annotations = []
for r in range(5):
    n0 = r * 3 + 1
    annotations.append(dict(
        text=bin_labels[r], xref=f"x{ax(n0)} domain", yref=f"y{ax(n0)} domain",
        x=0.09, y=0.82, xanchor="left", yanchor="middle", showarrow=False,
        font=dict(family=FONT, size=31, color=BLUE)))
    for c, (rs, xpos) in enumerate([(rs_lbol[r], 0.885), (rs_edd[r], 0.881)]):
        n = n0 + c + 1
        annotations.append(dict(
            text=f"r<sub>s</sub>:{rs} &amp; p:{p_val[r]}",
            xref=f"x{ax(n)} domain", yref=f"y{ax(n)} domain",
            x=xpos, y=0.175, xanchor="right", yanchor="middle", showarrow=False,
            font=dict(family=FONT, size=34, color=BLUE)))

for c in range(3):
    annotations.append(dict(
        text=x_titles[c], xref=f"x{13 + c} domain", yref="paper",
        x=0.5, y=-0.049, xanchor="center", yanchor="middle", showarrow=False,
        font=dict(family=FONT, size=36, color="black")))

annotations.append(dict(
    text="log FeII/MgII", xref="paper", yref="paper", x=-0.078, y=0.5,
    xanchor="center", yanchor="middle", textangle=-90, showarrow=False,
    font=dict(family=FONT, size=36, color="black")))

fig.update_layout(
    width=1770, height=2066,
    margin=dict(l=178, r=53, t=39, b=166),
    plot_bgcolor="white", paper_bgcolor="white",
    showlegend=False, annotations=annotations,
)

fig.write_html("out.html")
